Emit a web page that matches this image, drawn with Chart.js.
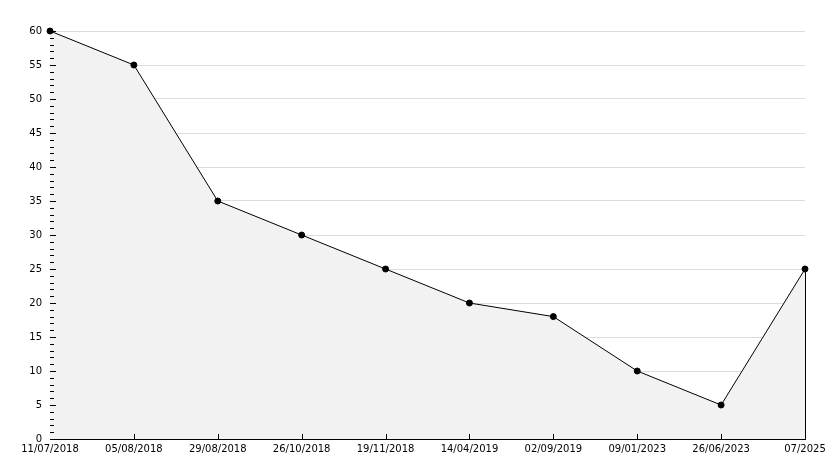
<!DOCTYPE html>
<html>
<head>
<meta charset="utf-8">
<script src="https://cdn.jsdelivr.net/npm/chart.js@4"></script>
<style>
html,body{margin:0;padding:0;background:#fff;}
#c{display:block;}
</style>
</head>
<body>
<canvas id="c" width="834" height="468"></canvas>
<script>
const categories = ['11/07/2018','05/08/2018','29/08/2018','26/10/2018','19/11/2018','14/04/2019','02/09/2019','09/01/2023','26/06/2023','07/2025'];
const values = [60,55,35,30,25,20,18,10,5,25];
const yMin = 0, yMax = 60, yMajor = 5, yMinor = 1;

const tickPlugin = {
  id: 'ticks',
  afterDatasetsDraw(chart) {
    const ctx = chart.ctx, x = chart.scales.x, y = chart.scales.y, a = chart.chartArea;
    ctx.save();
    ctx.strokeStyle = '#000';
    ctx.lineWidth = 1;
    for (let v = yMin; v <= yMax; v += yMinor) {
      const py = Math.round(y.getPixelForValue(v)) + 0.5;
      const len = v % yMajor === 0 ? 6 : 4;
      ctx.beginPath(); ctx.moveTo(a.left, py); ctx.lineTo(a.left + len, py); ctx.stroke();
    }
    for (let i = 1; i < categories.length - 1; i++) {
      const px = Math.round(x.getPixelForValue(i)) + 0.5;
      ctx.beginPath(); ctx.moveTo(px, a.bottom); ctx.lineTo(px, a.bottom - 5); ctx.stroke();
    }
    const last = categories.length - 1;
    const lx = Math.round(x.getPixelForValue(last)) + 0.5;
    ctx.beginPath(); ctx.moveTo(lx, y.getPixelForValue(values[last])); ctx.lineTo(lx, a.bottom); ctx.stroke();
    ctx.restore();
  }
};

new Chart(document.getElementById('c'), {
  type: 'line',
  data: {
    labels: categories,
    datasets: [{
      data: values,
      borderColor: '#000',
      borderWidth: 1,
      backgroundColor: '#f2f2f2',
      fill: 'origin',
      tension: 0,
      clip: false,
      pointRadius: 3,
      pointHoverRadius: 3,
      pointBackgroundColor: '#000',
      pointBorderColor: '#000',
      pointBorderWidth: 1
    }]
  },
  options: {
    responsive: false,
    animation: false,
    devicePixelRatio: 1,
    layout: { padding: { left: 0, top: 31, right: 29, bottom: 0 } },
    plugins: { legend: { display: false }, tooltip: { enabled: false } },
    scales: {
      x: {
        offset: false,
        grid: { display: false, drawTicks: false },
        border: { display: true, color: '#000', width: 1 },
        ticks: { color: '#000', font: { family: 'DejaVu Sans', size: 10 }, padding: 4, maxRotation: 0, autoSkip: false },
        afterFit(s) { s.height = 29; }
      },
      y: {
        min: yMin, max: yMax,
        grid: {
          drawTicks: false,
          color: ctx => (ctx.tick && ctx.tick.value % yMajor === 0 && ctx.tick.value !== 0) ? '#dcdcdc' : 'rgba(0,0,0,0)'
        },
        border: { display: true, color: '#000', width: 1 },
        ticks: {
          stepSize: yMinor,
          autoSkip: false,
          color: '#000',
          font: { family: 'DejaVu Sans', size: 10 },
          padding: 8,
          callback: v => (v % yMajor === 0 ? String(v) : '')
        },
        afterFit(s) { s.width = 50; }
      }
    }
  },
  plugins: [tickPlugin]
});
</script>
</body>
</html>
